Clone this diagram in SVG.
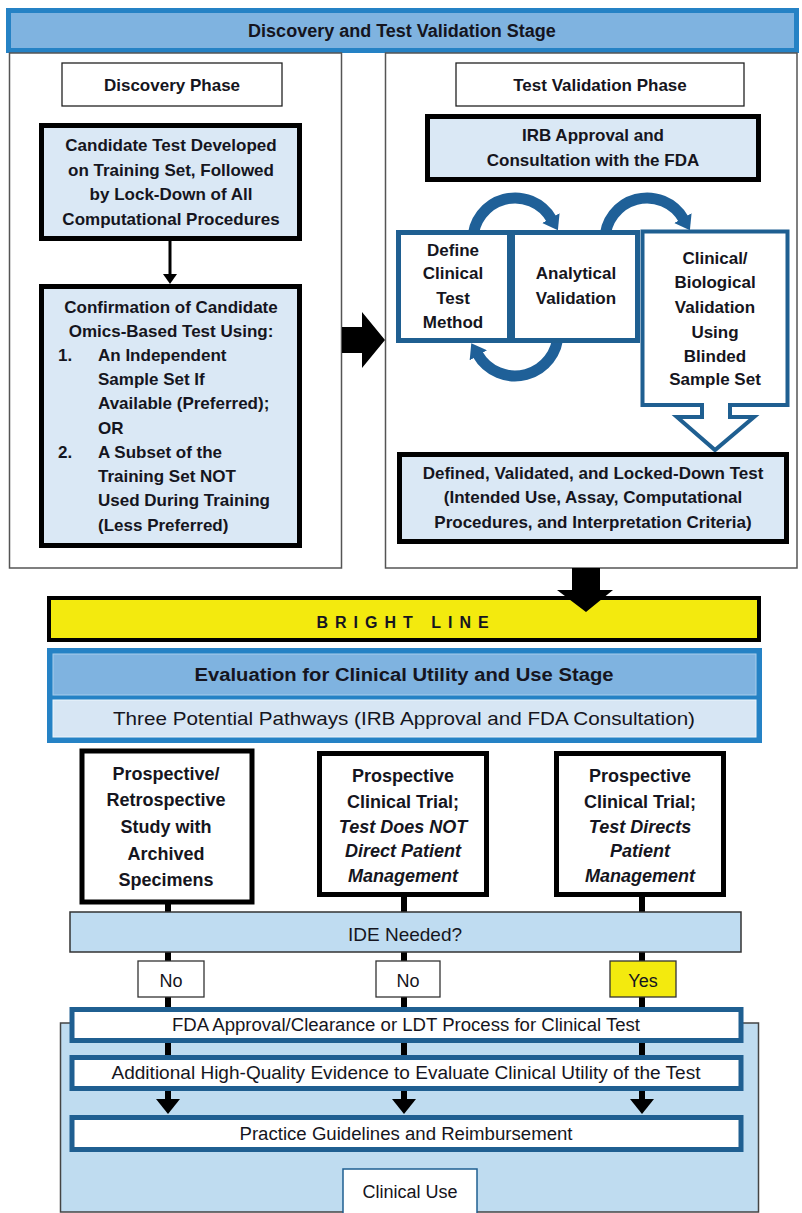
<svg xmlns="http://www.w3.org/2000/svg" width="802" height="1213" viewBox="0 0 802 1213">
<style>
.t{font-family:"Liberation Sans",Arial,sans-serif;font-weight:bold;font-size:17px;fill:#151520;text-anchor:middle}
.tl{font-family:"Liberation Sans",Arial,sans-serif;font-weight:bold;font-size:17px;fill:#151520;text-anchor:start}
.h{font-family:"Liberation Sans",Arial,sans-serif;font-weight:bold;font-size:18px;fill:#151520;text-anchor:middle}
.c{font-family:"Liberation Sans",Arial,sans-serif;font-size:18px;fill:#151520;text-anchor:middle}
.cb{font-family:"Liberation Sans",Arial,sans-serif;font-weight:bold;font-size:18px;fill:#151520;text-anchor:middle}
.ci{font-family:"Liberation Sans",Arial,sans-serif;font-weight:bold;font-style:italic;font-size:18px;fill:#151520;text-anchor:middle}
.panel{fill:#fff;stroke:#555;stroke-width:1.5}
.lbl{fill:#fff;stroke:#222;stroke-width:1.3}
.lb{fill:#dae8f5;stroke:#000;stroke-width:5}
.bb{fill:#fff;stroke:#1f5f91;stroke-width:5}
.pw{fill:#fff;stroke:#000;stroke-width:5}
.loop{fill:none;stroke:#1f6098;stroke-width:11}
.vl{stroke:#000;stroke-width:6}
</style>
<defs>
<marker id="cah" markerUnits="userSpaceOnUse" viewBox="0 0 14 20" markerWidth="14" markerHeight="20" refX="1" refY="10" orient="auto">
<path d="M0,0 L14,10 L0,20 Z" fill="#1f6098"/>
</marker>
</defs>

<g id="stage-banner">
<rect x="6" y="8" width="793" height="45" fill="#2582c5"/>
<rect x="11" y="13" width="783" height="35" fill="#7fb3e0"/>
<text class="h" x="402" y="37">Discovery and Test Validation Stage</text>
</g>

<g id="discovery-panel">
<rect class="panel" x="9.5" y="53" width="332" height="515"/>
</g>
<g id="validation-panel">
<rect class="panel" x="385.5" y="53" width="411.5" height="515"/>
</g>

<g id="bright-line">
<rect x="49" y="598" width="710" height="42" fill="#f3ea0e" stroke="#000" stroke-width="4"/>
<text class="t" x="406" y="628" style="font-size:16px;letter-spacing:7px">BRIGHT LINE</text>
</g>

<g id="evaluation-stage">
<rect x="47" y="648" width="715" height="95" fill="#2582c5"/>
<rect x="53" y="654" width="703" height="41" fill="#7fb3e0" stroke="#a9cdec" stroke-width="1"/>
<rect x="53" y="700" width="703" height="37" fill="#d7e6f4" stroke="#eef5fb" stroke-width="1"/>
<text class="cb" x="404" y="681" textLength="419" lengthAdjust="spacingAndGlyphs">Evaluation for Clinical Utility and Use Stage</text>
<text class="c" x="404" y="725" style="font-size:19px" textLength="582" lengthAdjust="spacingAndGlyphs">Three Potential Pathways (IRB Approval and FDA Consultation)</text>
</g>

<g id="clinical-use-region">
<rect x="60.5" y="1023" width="698" height="189" fill="#bfdcf0" stroke="#444" stroke-width="1.5"/>
</g>

<g id="connectors">
<line x1="170" y1="241" x2="170" y2="276" stroke="#000" stroke-width="3"/>
<polygon points="163,274 177,274 170,284" fill="#000"/>
<polygon points="342,327 362,327 362,312 385,340 362,368 362,353 342,353" fill="#000"/>
<path class="loop" d="M 473 240 A 42 42 0 0 1 551.4 219" marker-end="url(#cah)"/>
<path class="loop" d="M 605 240 A 42 42 0 0 1 683.4 219" marker-end="url(#cah)"/>
<path class="loop" d="M 558 333 A 43 43 0 0 1 477.8 354.5" marker-end="url(#cah)"/>
<polygon points="572,568 600,568 600,590 613,590 586,612 557,590 572,590" fill="#000"/>
<line class="vl" x1="168" y1="900" x2="168" y2="1101"/>
<line class="vl" x1="404" y1="893" x2="404" y2="1101"/>
<line class="vl" x1="642" y1="893" x2="642" y2="1101"/>
<polygon points="156,1099 180,1099 168,1114" fill="#000"/>
<polygon points="392,1099 416,1099 404,1114" fill="#000"/>
<polygon points="630,1099 654,1099 642,1114" fill="#000"/>
</g>

<g id="discovery-phase">
<rect class="lbl" x="62" y="63" width="220" height="43"/>
<text class="t" x="172" y="91">Discovery Phase</text>
</g>
<g id="test-validation-phase">
<rect class="lbl" x="456" y="63" width="288" height="43"/>
<text class="t" x="600" y="91">Test Validation Phase</text>
</g>

<g id="candidate-test">
<rect class="lb" x="41.5" y="125.5" width="258" height="113"/>
<text class="t" x="171" y="151">Candidate Test Developed</text>
<text class="t" x="171" y="176">on Training Set, Followed</text>
<text class="t" x="171" y="200">by Lock-Down of All</text>
<text class="t" x="171" y="225">Computational Procedures</text>
</g>

<g id="confirmation">
<rect class="lb" x="41.5" y="286.5" width="258" height="259"/>
<text class="t" x="171" y="313">Confirmation of Candidate</text>
<text class="t" x="171" y="337">Omics-Based Test Using:</text>
<text class="tl" x="58" y="361">1.</text>
<text class="tl" x="98" y="361">An Independent</text>
<text class="tl" x="98" y="385">Sample Set If</text>
<text class="tl" x="98" y="409">Available (Preferred);</text>
<text class="tl" x="98" y="434">OR</text>
<text class="tl" x="58" y="458">2.</text>
<text class="tl" x="98" y="458">A Subset of the</text>
<text class="tl" x="98" y="482">Training Set NOT</text>
<text class="tl" x="98" y="506">Used During Training</text>
<text class="tl" x="98" y="531">(Less Preferred)</text>
</g>

<g id="irb-approval">
<rect class="lb" x="427.5" y="116.5" width="331" height="63"/>
<text class="t" x="593" y="141">IRB Approval and</text>
<text class="t" x="593" y="166">Consultation with the FDA</text>
</g>

<g id="define-method">
<rect class="bb" x="398.5" y="232.5" width="111" height="108"/>
<text class="t" x="453" y="256">Define</text>
<text class="t" x="453" y="279">Clinical</text>
<text class="t" x="453" y="304">Test</text>
<text class="t" x="453" y="328">Method</text>
</g>

<g id="analytical-validation">
<rect class="bb" x="512.5" y="232.5" width="125" height="108"/>
<text class="t" x="576" y="279">Analytical</text>
<text class="t" x="576" y="304">Validation</text>
</g>

<g id="clinical-validation">
<path d="M 642.5 231.5 H 787.5 V 405 H 730 V 417 H 754 L 715 450 L 677 417 H 702 V 405 H 642.5 Z" fill="#fff" stroke="#1f5f91" stroke-width="4" stroke-linejoin="miter"/>
<text class="t" x="715" y="264">Clinical/</text>
<text class="t" x="715" y="288">Biological</text>
<text class="t" x="715" y="313">Validation</text>
<text class="t" x="715" y="338">Using</text>
<text class="t" x="715" y="362">Blinded</text>
<text class="t" x="715" y="385">Sample Set</text>
</g>

<g id="locked-down-test">
<rect class="lb" x="399.5" y="454.5" width="387" height="87"/>
<text class="t" x="593" y="479">Defined, Validated, and Locked-Down Test</text>
<text class="t" x="593" y="503">(Intended Use, Assay, Computational</text>
<text class="t" x="593" y="528">Procedures, and Interpretation Criteria)</text>
</g>

<g id="pathway-retrospective">
<rect class="pw" x="82" y="751" width="170" height="151"/>
<text class="cb" x="166" y="780">Prospective/</text>
<text class="cb" x="166" y="806">Retrospective</text>
<text class="cb" x="166" y="833">Study with</text>
<text class="cb" x="166" y="860">Archived</text>
<text class="cb" x="166" y="886">Specimens</text>
</g>

<g id="pathway-not-direct">
<rect class="pw" x="319.5" y="753.5" width="167" height="141"/>
<text class="cb" x="403" y="782">Prospective</text>
<text class="cb" x="403" y="808">Clinical Trial;</text>
<text class="ci" x="403" y="833">Test Does NOT</text>
<text class="ci" x="403" y="857">Direct Patient</text>
<text class="ci" x="403" y="882">Management</text>
</g>

<g id="pathway-directs">
<rect class="pw" x="556.5" y="753.5" width="167" height="141"/>
<text class="cb" x="640" y="782">Prospective</text>
<text class="cb" x="640" y="808">Clinical Trial;</text>
<text class="ci" x="640" y="833">Test Directs</text>
<text class="ci" x="640" y="857">Patient</text>
<text class="ci" x="640" y="882">Management</text>
</g>

<g id="ide-needed">
<rect x="70" y="912" width="671" height="40" fill="#bfdcf1" stroke="#333" stroke-width="1.5"/>
<text class="c" x="405" y="941" style="font-size:19px">IDE Needed?</text>
</g>

<g id="answer-no-1">
<rect x="138" y="961" width="66" height="36" fill="#fff" stroke="#333" stroke-width="1.3"/>
<text class="c" x="171" y="987">No</text>
</g>
<g id="answer-no-2">
<rect x="376" y="961" width="64" height="36" fill="#fff" stroke="#333" stroke-width="1.3"/>
<text class="c" x="408" y="987">No</text>
</g>
<g id="answer-yes">
<rect x="610" y="961" width="66" height="36" fill="#f3ea0e" stroke="#333" stroke-width="1.3"/>
<text class="c" x="643" y="987">Yes</text>
</g>

<g id="fda-approval">
<rect class="bb" x="72" y="1009.5" width="669" height="31"/>
<text class="c" x="406" y="1031" textLength="468" lengthAdjust="spacingAndGlyphs">FDA Approval/Clearance or LDT Process for Clinical Test</text>
</g>

<g id="additional-evidence">
<rect class="bb" x="72" y="1057.5" width="669" height="31"/>
<text class="c" x="406" y="1079" textLength="589" lengthAdjust="spacingAndGlyphs">Additional High-Quality Evidence to Evaluate Clinical Utility of the Test</text>
</g>

<g id="practice-guidelines">
<rect class="bb" x="72" y="1117.5" width="669" height="32"/>
<text class="c" x="406" y="1140" textLength="333" lengthAdjust="spacingAndGlyphs">Practice Guidelines and Reimbursement</text>
</g>

<g id="clinical-use">
<rect x="343" y="1169" width="134" height="46" fill="#fff" stroke="#1f5f91" stroke-width="1.5"/>
<text class="c" x="410" y="1198">Clinical Use</text>
</g>
</svg>
